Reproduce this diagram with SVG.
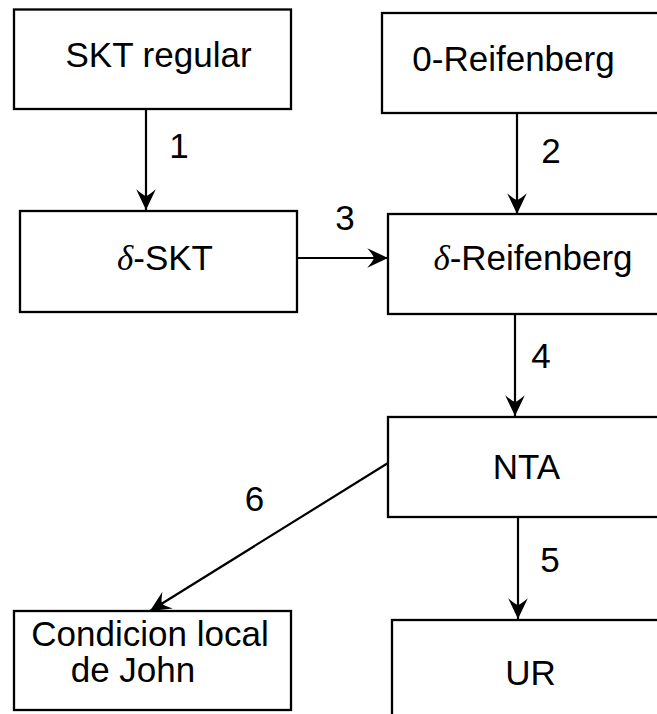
<svg xmlns="http://www.w3.org/2000/svg" width="657" height="714" viewBox="0 0 657 714">
<style>
.box{fill:#fff;stroke:#000;stroke-width:2.3}
.t{font-family:"Liberation Sans",Arial,sans-serif;font-size:35px;fill:#000;text-anchor:middle}
.m{font-family:"Liberation Serif","Times New Roman",serif;font-style:italic}
.e{stroke:#000;stroke-width:2.2;fill:none;marker-end:url(#ah)}
</style>
<defs>
<marker id="ah" markerUnits="userSpaceOnUse" markerWidth="24" markerHeight="24" viewBox="-20 -10 22 20" refX="0" refY="0" orient="auto">
<path d="M0,0 L-19,-9 Q-13,-2 -13,0 Q-13,2 -19,9 Z" fill="#000"/>
</marker>
</defs>
<rect width="657" height="714" fill="#fff"/>
<g id="n1"><rect class="box" x="14" y="9.5" width="277" height="99.5"/><text class="t" x="158.5" y="67">SKT regular</text></g>
<g id="n2"><rect class="box" x="382" y="13" width="290" height="100"/><text class="t" x="513.5" y="71">0-Reifenberg</text></g>
<g id="n3"><rect class="box" x="20" y="211" width="277" height="101"/><text class="t" x="165" y="270"><tspan class="m">δ</tspan>-SKT</text></g>
<g id="n4"><rect class="box" x="388" y="214" width="290" height="100"/><text class="t" x="533" y="270"><tspan class="m">δ</tspan>-Reifenberg</text></g>
<g id="n5"><rect class="box" x="388" y="417" width="290" height="100"/><text class="t" x="526.5" y="479">NTA</text></g>
<g id="n6"><rect class="box" x="392" y="620" width="290" height="110"/><text class="t" x="530.5" y="685">UR</text></g>
<g id="n7"><rect class="box" x="14" y="611" width="277" height="99"/><text class="t" x="150" y="646">Condicion local</text><text class="t" x="133" y="682">de John</text></g>
<g id="edges">
<line class="e" x1="146" y1="109" x2="146" y2="210"/>
<line class="e" x1="517" y1="113" x2="517" y2="214"/>
<line class="e" x1="297" y1="258" x2="388" y2="258"/>
<line class="e" x1="515" y1="314" x2="515" y2="416"/>
<line class="e" x1="518" y1="517" x2="518" y2="619"/>
<line class="e" x1="388" y1="463" x2="150" y2="611"/>
<text class="t" x="179" y="158">1</text>
<text class="t" x="551" y="163">2</text>
<text class="t" x="345" y="230">3</text>
<text class="t" x="541" y="368">4</text>
<text class="t" x="550" y="572">5</text>
<text class="t" x="254.5" y="511">6</text>
</g>
</svg>
